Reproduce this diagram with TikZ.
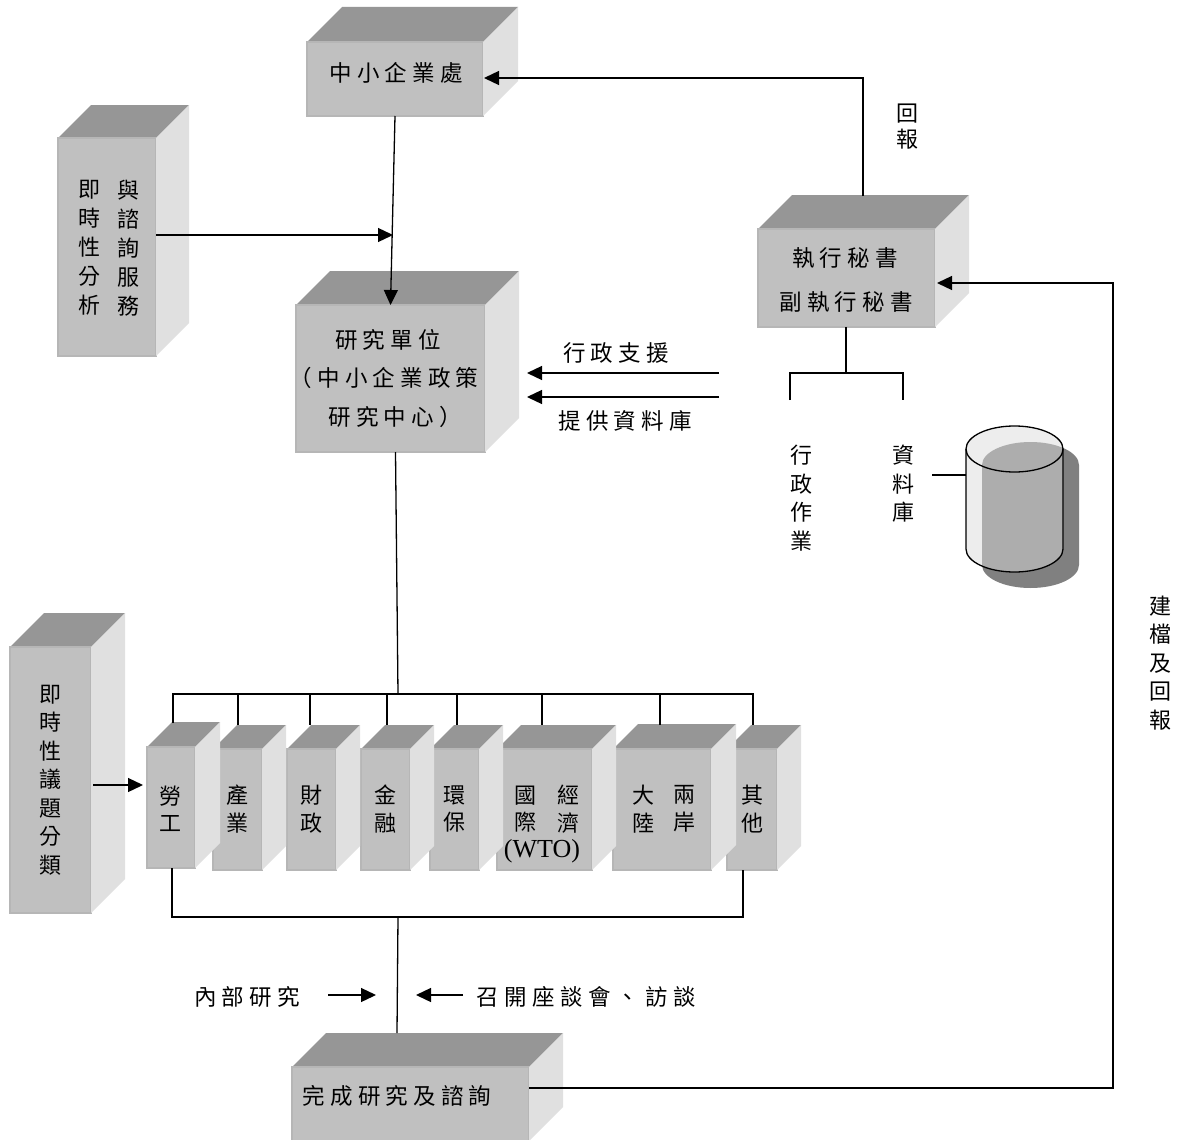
\documentclass[tikz,border=0pt]{standalone}
\usepackage{fontspec}
\setmainfont{Liberation Serif}
\newfontfamily\cjk{Noto Sans CJK TC}
\newfontfamily\cjkh[LetterSpace=23]{Noto Sans CJK TC}
\newfontfamily\cjkw[LetterSpace=25]{Noto Sans CJK TC}
\usetikzlibrary{arrows.meta,calc}
\definecolor{frontc}{HTML}{C0C0C0}
\definecolor{edgec}{HTML}{B6B6B6}
\definecolor{topc}{HTML}{969696}
\definecolor{sidec}{HTML}{E0E0E0}
\tikzset{
  frontface/.style={fill=frontc,draw=edgec,line width=1.5pt,inner sep=0pt,outer sep=0pt},
  topface/.style={fill=topc},
  sideface/.style={fill=sidec},
  conn/.style={draw=black,line width=1.3pt},
  arr/.style={conn,-{Triangle[length=15pt,width=14pt]}},
  htext/.style={inner sep=0pt,font=\cjkh\fontsize{22.5}{26}\selectfont,text=black},
  htextw/.style={inner sep=0pt,font=\cjkw\fontsize{22.5}{26}\selectfont,text=black},
  vtext/.style={inner sep=0pt,align=center,font=\cjk\fontsize{22}{28.5}\selectfont,text=black},
  vtextb/.style={inner sep=0pt,align=center,font=\cjk\fontsize{22}{27.5}\selectfont,text=black},
  vtextc/.style={inner sep=0pt,align=center,font=\cjk\fontsize{22}{29}\selectfont,text=black},
  vtextd/.style={inner sep=0pt,align=center,font=\cjk\fontsize{22}{26}\selectfont,text=black},
}
% name, x0, y0, x1, y1, depth
\newcommand{\solidbox}[6]{%
  \fill[topface] (#2,#3) -- ({#2+#6},{#3-#6}) -- ({#4+#6},{#3-#6}) -- (#4,#3) -- cycle;
  \node[frontface,minimum width={(#4-#2)*1pt},minimum height={(#5-#3)*1pt},anchor=north west] (#1) at (#2,#3) {};
  \fill[sideface] (#4,#3) -- ({#4+#6},{#3-#6}) -- ({#4+#6},{#5-#6}) -- (#4,#5) -- cycle;
}
% cylinder outline path: x-left, x-right, y-top, y-bottom
\newcommand{\cylpath}[4]{(#1,#3) -- (#1,#4) arc[start angle=180,end angle=0,x radius=48.5,y radius=23] -- (#2,#3) arc[start angle=0,end angle=-180,x radius=48.5,y radius=23] -- cycle}
\begin{document}
\begin{tikzpicture}[x=1pt,y=-1pt]
\useasboundingbox (0,0) rectangle (1184,1140);
\fill[white] (0,0) rectangle (1184,1140);

% boxes (row drawn right to left: each side face covers its right neighbour)
\solidbox{sme}{307}{42}{483}{116}{35}
\solidbox{instant}{58}{138}{156}{356}{33}
\solidbox{exec}{758}{229}{935}{327}{34}
\solidbox{research}{296}{305}{485}{452}{34}
\solidbox{classify}{10}{647}{91}{913}{34}
\solidbox{other}{727}{749}{777}{870}{24}
\solidbox{cross}{613}{749}{711}{870}{25}
\solidbox{intl}{497}{749}{592}{870}{24}
\solidbox{env}{430}{749}{479}{870}{24}
\solidbox{finance}{361}{749}{410}{870}{24}
\solidbox{fiscal}{287}{749}{336}{870}{24}
\solidbox{industry}{213}{749}{262}{870}{24}
\solidbox{labor}{147}{747}{195}{868}{25}
\solidbox{done}{292}{1067}{529}{1141}{34}

% cylinder
\coordinate (dbwest) at (966,475);
\fill[black!50] \cylpath{982}{1079}{465}{565};
\fill[black!7] \cylpath{966}{1063}{449}{549};
\begin{scope}
\clip \cylpath{966}{1063}{449}{549};
\fill[black!32] \cylpath{982}{1079}{465}{565};
\end{scope}
\draw[conn] (966,449) -- (966,549) arc[start angle=180,end angle=0,x radius=48.5,y radius=23] -- (1063,449);
\draw[conn] (1014.5,449) ellipse[x radius=48.5,y radius=23];

% labels
\node[htext] (tsme) at (396,73) {中小企業處};
\node[vtextd] (treport) at (907,127) {回\\報};
\node[vtextc] (tinst1) at (89,248) {即\\時\\性\\分\\析};
\node[vtextc] (tinst2) at (128,248) {與\\諮\\詢\\服\\務};
\node[htext] (texec1) at (845,258) {執行秘書};
\node[htext] (texec2) at (846,302) {副執行秘書};
\node[htext] (tres1) at (388,340) {研究單位};
\node[htext] (tres2) at (384,378) {（中小企業政策};
\node[htext] (tres3) at (395,417) {研究中心）};
\node[htext] (tadmin) at (616,353) {行政支援};
\node[htext] (tdata) at (625,421) {提供資料庫};
\node[vtext] (tadminw) at (801,498) {行\\政\\作\\業};
\node[vtext] (tdbw) at (903,484) {資\\料\\庫};
\node[vtext] (tfile) at (1160,663) {建\\檔\\及\\回\\報};
\node[vtext] (tclass) at (50,780) {即\\時\\性\\議\\題\\分\\類};
\node[vtextb] (t1) at (170,809) {勞\\工};
\node[vtextb] (t2) at (237,809) {產\\業};
\node[vtextb] (t3) at (311,809) {財\\政};
\node[vtextb] (t4) at (385,809) {金\\融};
\node[vtextb] (t5) at (454,809) {環\\保};
\node[vtextb] (t6a) at (525,809) {國\\際};
\node[vtextb] (t6b) at (568,809) {經\\濟};
\node[inner sep=0pt,font=\fontsize{26}{28}\selectfont] (t6c) at (542,851) {(WTO)};
\node[vtextb] (t7a) at (643,809) {大\\陸};
\node[vtextb] (t7b) at (684,809) {兩\\岸};
\node[vtextb] (t8) at (752,809) {其\\他};
\node[htext] (tint) at (247,997) {內部研究};
\node[htextw] (tmeet) at (586,997) {召開座談會、訪談};
\node[htext] (tdone) at (397,1096) {完成研究及諮詢};

% connector coordinates
\coordinate (j1) at (393,235);
\coordinate (c1) at ($(instant.north east)+(0,97)$);
\coordinate (r1) at (863,196);
\coordinate (r2) at (863,78);
\coordinate (r3) at (484,78);
\coordinate (b0) at (846,373);
\coordinate (b1) at (790,373);
\coordinate (b2) at (903,373);
\coordinate (b1e) at (790,400);
\coordinate (b2e) at (903,400);
\coordinate (a1s) at (719,373);
\coordinate (a1e) at (527,373);
\coordinate (a2s) at (719,397);
\coordinate (a2e) at (527,397);
\coordinate (dbs) at (932,475);
\coordinate (bus) at (398,694);
\coordinate (busl) at (173,694);
\coordinate (busr) at (753,694);
\coordinate (col) at (398,917);
\coordinate (coll) at (172,917);
\coordinate (colr) at (743,917);
\coordinate (cs) at (93,785);
\coordinate (ce) at (143,785);
\coordinate (i1) at (328,995);
\coordinate (i2) at (376,995);
\coordinate (m1) at (463,995);
\coordinate (m2) at (416,995);
\coordinate (f0) at (529,1088);
\coordinate (f1) at (1113,1088);
\coordinate (f2) at (1113,283);
\coordinate (f3) at (937,283);

% connectors
\draw[arr] (sme.south) -- (research.north);
\draw[arr] (c1) -- (j1);
\draw[arr] (r1) -- (r2) -- (r3);
\draw[conn] (exec.south -| b0) -- (b0);
\draw[conn] (b1e) -- (b1) -- (b2) -- (b2e);
\draw[arr] (a1s) -- (a1e);
\draw[arr] (a2s) -- (a2e);
\draw[conn] (dbs) -- (dbwest);
\draw[conn] ($(research.south)+(5,0)$) -- (bus);
\draw[conn] (labor.north -| busl) ++(0,-24) -- (busl) -- (busr) -- ++(0,31);
\draw[conn] (238,694) -- (238,725);
\draw[conn] (310,694) -- (310,725);
\draw[conn] (387,694) -- (387,725);
\draw[conn] (457,694) -- (457,725);
\draw[conn] (542,694) -- (542,725);
\draw[conn] (660,694) -- (660,725);
\draw[conn] (coll |- labor.south) -- (coll) -- (colr) -- (colr |- other.south);
\draw[conn] (col) -- (397,1033);
\draw[arr] (cs) -- (ce);
\draw[arr] (i1) -- (i2);
\draw[arr] (m1) -- (m2);
\draw[arr] (f0) -- (f1) -- (f2) -- (f3);
\end{tikzpicture}
\end{document}
